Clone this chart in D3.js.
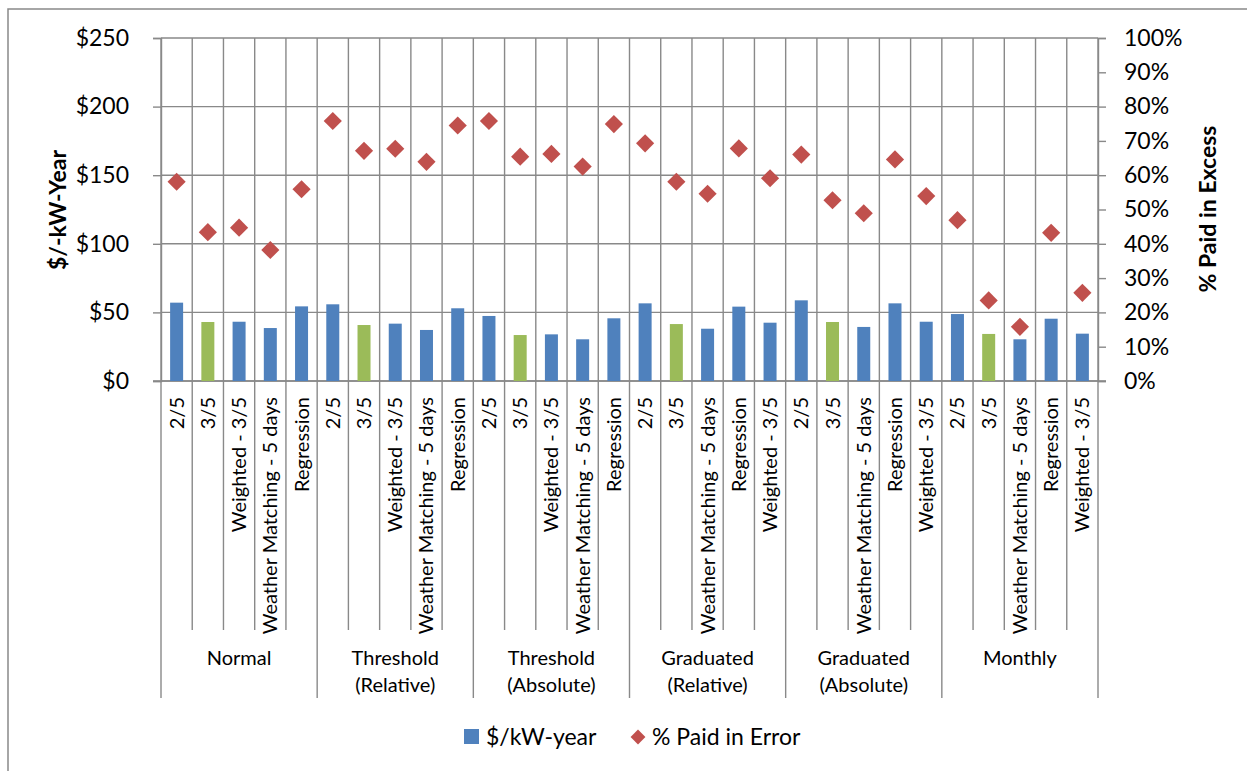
<!DOCTYPE html>
<html><head><meta charset="utf-8">
<script src="https://cdn.jsdelivr.net/npm/d3@7"></script>
<style>body{margin:0;background:#fff;}svg{display:block;font-family:Lato,"Open Sans",sans-serif;}</style>
</head><body>
<svg id="chart" width="1247" height="771"></svg>
<script>
const groups = ["Normal","Threshold\n(Relative)","Threshold\n(Absolute)","Graduated\n(Relative)","Graduated\n(Absolute)","Monthly"];
const methods = [
  ["2/5","3/5","Weighted - 3/5","Weather Matching - 5 days","Regression"],
  ["2/5","3/5","Weighted - 3/5","Weather Matching - 5 days","Regression"],
  ["2/5","3/5","Weighted - 3/5","Weather Matching - 5 days","Regression"],
  ["2/5","3/5","Weather Matching - 5 days","Regression","Weighted - 3/5"],
  ["2/5","3/5","Weather Matching - 5 days","Regression","Weighted - 3/5"],
  ["2/5","3/5","Weather Matching - 5 days","Regression","Weighted - 3/5"]
];
const dollarsPerKW = [57.1,43.0,43.2,38.6,54.4, 55.9,40.8,41.8,37.2,53.0, 47.4,33.5,34.0,30.4,45.7,
                      56.6,41.5,38.1,54.2,42.5, 58.8,43.0,39.4,56.6,43.2, 48.8,34.3,30.4,45.4,34.5];
const pctPaidInError = [58.1,43.4,44.7,38.2,55.9, 75.8,67.1,67.7,63.9,74.5, 75.8,65.4,66.2,62.5,74.9,
                        69.3,58.1,54.6,67.8,59.1, 66.0,52.7,48.9,64.6,53.9, 46.9,23.5,15.8,43.2,25.7];
const leftTicks = [0,50,100,150,200,250];
const rightTicks = [0,10,20,30,40,50,60,70,80,90,100];
const seriesNames = ["$/kW-year","% Paid in Error"];

const blue="#4F81BD", green="#9BBB59", red="#C0504D", grid="#898989";
const svg = d3.select("#chart");
const L=161, R=1098, T=38, B=381;

const cats = [];
methods.forEach((ms,gi)=>ms.forEach((m,mi)=>cats.push({id:gi+"-"+mi,g:gi,label:m,v:dollarsPerKW[cats.length],p:pctPaidInError[cats.length]})));

const x = d3.scaleBand().domain(cats.map(d=>d.id)).range([L,R]).paddingInner(0).paddingOuter(0);
const yL = d3.scaleLinear().domain([0,250]).range([B,T]);
const yR = d3.scaleLinear().domain([0,100]).range([B,T]);
const bw = x.bandwidth();

// outer border
svg.append("path").attr("d","M8,771V9H1247").attr("fill","none").attr("stroke",grid).attr("stroke-width",1.5);

// horizontal gridlines
svg.append("g").selectAll("line").data(leftTicks).join("line")
  .attr("x1",L).attr("x2",R).attr("y1",d=>yL(d)).attr("y2",d=>yL(d))
  .attr("stroke",grid).attr("stroke-width",1.4);
// vertical gridlines
const bounds = d3.range(cats.length+1).map(i=>L+i*bw);
svg.append("g").selectAll("line").data(bounds).join("line")
  .attr("x1",d=>d).attr("x2",d=>d).attr("y1",T).attr("y2",B)
  .attr("stroke",grid).attr("stroke-width",1.4);
// category separators below axis
svg.append("g").selectAll("line").data(bounds).join("line")
  .attr("x1",d=>d).attr("x2",d=>d).attr("y1",B)
  .attr("y2",(d,i)=> i%5===0 ? 698 : 630)
  .attr("stroke",grid).attr("stroke-width",1.4);

// left axis
const axL = svg.append("g").attr("transform",`translate(${L},0)`)
  .call(d3.axisLeft(yL).tickValues(leftTicks).tickSize(8).tickPadding(24).tickFormat(d=>"$"+d));
axL.select(".domain").attr("stroke",grid).attr("stroke-width",1.4);
axL.selectAll(".tick line").attr("stroke",grid).attr("stroke-width",1.4);
axL.selectAll(".tick text").attr("font-size",23).attr("fill","#000").attr("font-family","Lato");

// right axis
const axR = svg.append("g").attr("transform",`translate(${R},0)`)
  .call(d3.axisRight(yR).tickValues(rightTicks).tickSize(8).tickPadding(18).tickFormat(d=>d+"%"));
axR.select(".domain").attr("stroke",grid).attr("stroke-width",1.4);
axR.selectAll(".tick line").attr("stroke",grid).attr("stroke-width",1.4);
axR.selectAll(".tick text").attr("font-size",23).attr("fill","#000").attr("font-family","Lato");

// bottom axis line
svg.append("line").attr("x1",L-8).attr("x2",R+8).attr("y1",B).attr("y2",B).attr("stroke",grid).attr("stroke-width",1.4);

// bars
const barW = 13;
svg.append("g").selectAll("rect").data(cats).join("rect")
  .attr("x",d=>x(d.id)+bw/2-barW/2).attr("width",barW)
  .attr("y",d=>yL(d.v)).attr("height",d=>B-yL(d.v))
  .attr("fill",d=>d.label==="3/5"?green:blue);

// diamonds
const sq = d3.symbol().type(d3.symbolSquare).size(165);
svg.append("g").selectAll("path").data(cats).join("path")
  .attr("d",sq).attr("fill",red)
  .attr("transform",d=>`translate(${x(d.id)+bw/2},${yR(d.p)}) rotate(45)`);

// category labels
svg.append("g").selectAll("text").data(cats).join("text")
  .attr("transform",d=>`translate(${x(d.id)+bw/2+7},397) rotate(-90)`)
  .attr("text-anchor","end").attr("font-size",20).text(d=>d.label);

// group labels
groups.forEach((g,gi)=>{
  const cx = L+(gi*5+2.5)*bw;
  const lines = g.split("\n");
  const t = svg.append("text").attr("text-anchor","middle").attr("font-size",20);
  lines.forEach((ln,li)=>t.append("tspan").attr("x",cx).attr("y",665+li*27).text(ln));
});

// axis titles
svg.append("text").attr("transform","translate(66,210) rotate(-90)").attr("text-anchor","middle")
  .attr("font-size",23).attr("font-weight","bold").text("$/-kW-Year");
svg.append("text").attr("transform","translate(1216,209) rotate(-90)").attr("text-anchor","middle")
  .attr("font-size",23).attr("font-weight","bold").text("% Paid in Excess");

// legend
const lg = svg.append("g");
lg.append("rect").attr("x",464).attr("y",729).attr("width",15).attr("height",15).attr("fill",blue);
lg.append("text").attr("x",486).attr("y",745).attr("font-size",23).text(seriesNames[0]);
lg.append("path").attr("d",d3.symbol().type(d3.symbolSquare).size(110)).attr("fill",red)
  .attr("transform","translate(638,737) rotate(45)");
lg.append("text").attr("x",652).attr("y",745).attr("font-size",23).text(seriesNames[1]);
</script>
</body></html>
